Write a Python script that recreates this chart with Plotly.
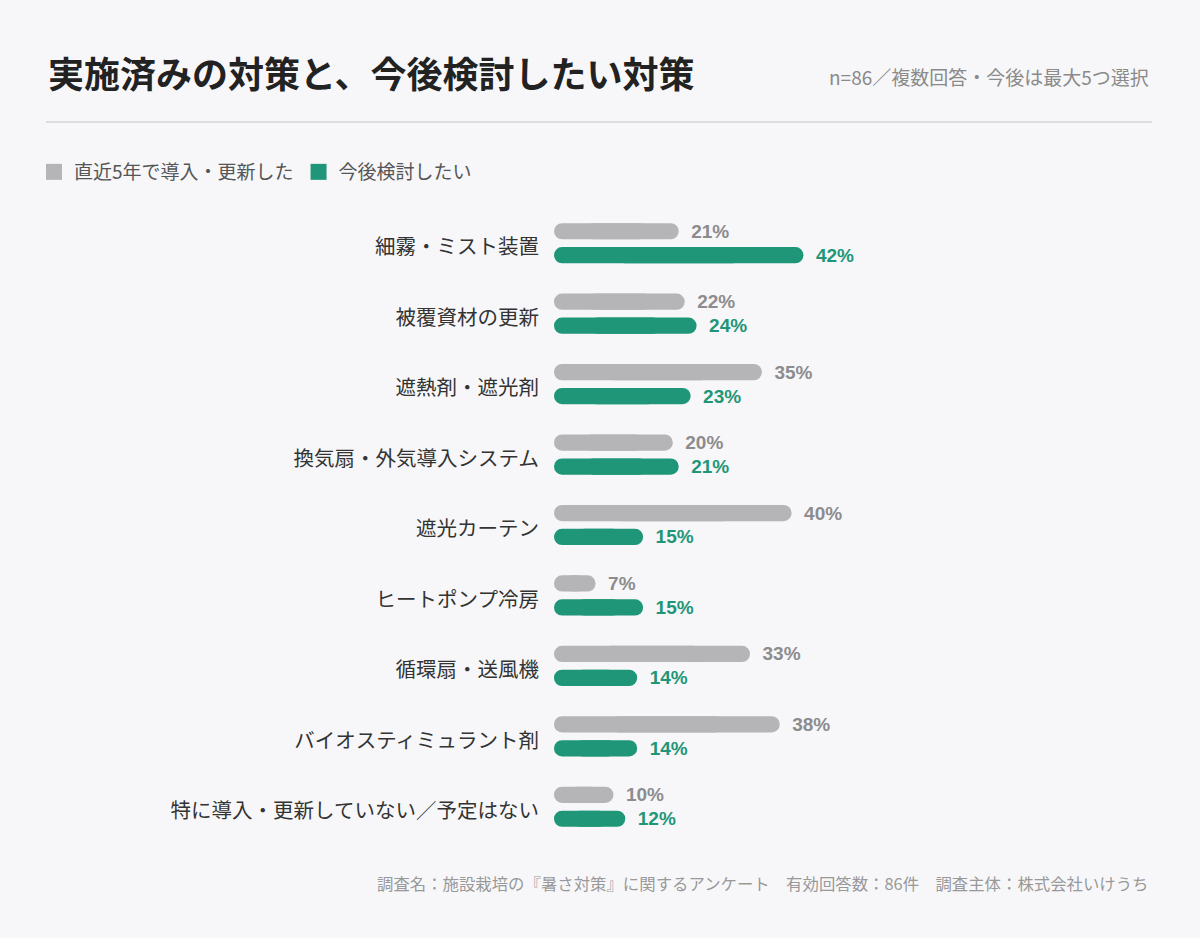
import plotly.graph_objects as go

# survey items, top to bottom
categories = [
    "細霧・ミスト装置",
    "被覆資材の更新",
    "遮熱剤・遮光剤",
    "換気扇・外気導入システム",
    "遮光カーテン",
    "ヒートポンプ冷房",
    "循環扇・送風機",
    "バイオスティミュラント剤",
    "特に導入・更新していない／予定はない",
]
done_5y = [21, 22, 35, 20, 40, 7, 33, 38, 10]   # 直近5年で導入・更新した
planned = [42, 24, 23, 21, 15, 15, 14, 14, 12]  # 今後検討したい

series_names = ["直近5年で導入・更新した", "今後検討したい"]

title = "実施済みの対策と、今後検討したい対策"
subtitle = "n=86／複数回答・今後は最大5つ選択"
footer = "調査名：施設栽培の『暑さ対策』に関するアンケート　有効回答数：86件　調査主体：株式会社いけうち"

GRAY = "#b5b5b7"
GREEN = "#1f9677"
GRAY_TXT = "#8c8c8e"
BG = "#f7f7f9"
FONT = "Noto Sans CJK JP"
NUM_FONT = "Liberation Sans, Noto Sans CJK JP"

W, H = 1200, 938
PL, PR, PT, PB = 554, 52, 208, 96  # plot area margins in px

bar_w = 0.23
offsets = [-0.17 - bar_w / 2, 0.17 - bar_w / 2]

fig = go.Figure()

# each bar is drawn as two overlapping pieces so both ends get rounded
for k, (vals, color, txtcolor) in enumerate([(done_5y, GRAY, GRAY_TXT), (planned, GREEN, GREEN)]):
    # right piece: rounded at the value end, carries the label
    fig.add_trace(go.Bar(
        y=categories,
        x=[v * 0.75 for v in vals],
        base=[v * 0.25 for v in vals],
        orientation="h",
        width=bar_w,
        offset=offsets[k],
        marker=dict(color=color, line=dict(width=0)),
        text=[f"\u2002{v}%" for v in vals],
        textposition="outside",
        constraintext="none",
        textfont=dict(color=txtcolor, size=19, family=NUM_FONT, weight="bold"),
        cliponaxis=False,
        showlegend=False,
        hoverinfo="skip",
    ))
    # left piece: rounded at zero
    fig.add_trace(go.Bar(
        y=categories,
        x=[-v * 0.75 for v in vals],
        base=[v * 0.75 for v in vals],
        orientation="h",
        width=bar_w,
        offset=offsets[k],
        marker=dict(color=color, line=dict(width=0)),
        showlegend=False,
        hoverinfo="skip",
    ))

# legend entries with square keys
for name, color in zip(series_names, [GRAY, GREEN]):
    fig.add_trace(go.Scatter(
        x=[None], y=[None], mode="markers", name=name,
        marker=dict(symbol="square", size=16, color=color),
        showlegend=True,
    ))


def px(x):
    return (x - PL) / (W - PL - PR)


def py(y):
    return (H - PB - y) / (H - PT - PB)


fig.update_layout(
    width=W,
    height=H,
    paper_bgcolor=BG,
    plot_bgcolor=BG,
    barmode="overlay",
    barcornerradius="50%",
    margin=dict(l=PL, r=PR, t=PT, b=PB),
    font=dict(family=FONT, color="#333333"),
    xaxis=dict(range=[0, 100], visible=False, fixedrange=True),
    yaxis=dict(
        autorange="reversed",
        showgrid=False,
        zeroline=False,
        showline=False,
        ticks="",
        ticklabelstandoff=14,
        ticklabelshift=-4,
        tickfont=dict(size=20.5, color="#333333", family=FONT),
        fixedrange=True,
    ),
    showlegend=True,
    legend=dict(
        orientation="h",
        xref="container", yref="container",
        x=34 / W, y=1 - 172 / H,
        xanchor="left", yanchor="middle",
        font=dict(size=19, color="#555555", family=FONT),
        itemwidth=30,
        traceorder="normal",
        bgcolor="rgba(0,0,0,0)",
    ),
    annotations=[
        dict(text=f"<b>{title}</b>", xref="paper", yref="paper", x=px(46), y=py(72),
             xanchor="left", yanchor="middle", showarrow=False,
             font=dict(size=36, color="#222222", family=FONT)),
        dict(text=subtitle, xref="paper", yref="paper", x=px(1151), y=py(77),
             xanchor="right", yanchor="middle", showarrow=False,
             font=dict(size=19, color="#8a8a8a", family=FONT)),
        dict(text=footer, xref="paper", yref="paper", x=px(1151), y=py(883),
             xanchor="right", yanchor="middle", showarrow=False,
             font=dict(size=16.4, color="#999999", family=FONT)),
    ],
    shapes=[
        dict(type="line", xref="paper", yref="paper", x0=px(46), x1=px(1152),
             y0=py(122), y1=py(122), line=dict(color="#dddddd", width=2)),
    ],
)

fig.write_html("out.html", config={"displayModeBar": False},
               post_script="document.body.style.margin='0';")
